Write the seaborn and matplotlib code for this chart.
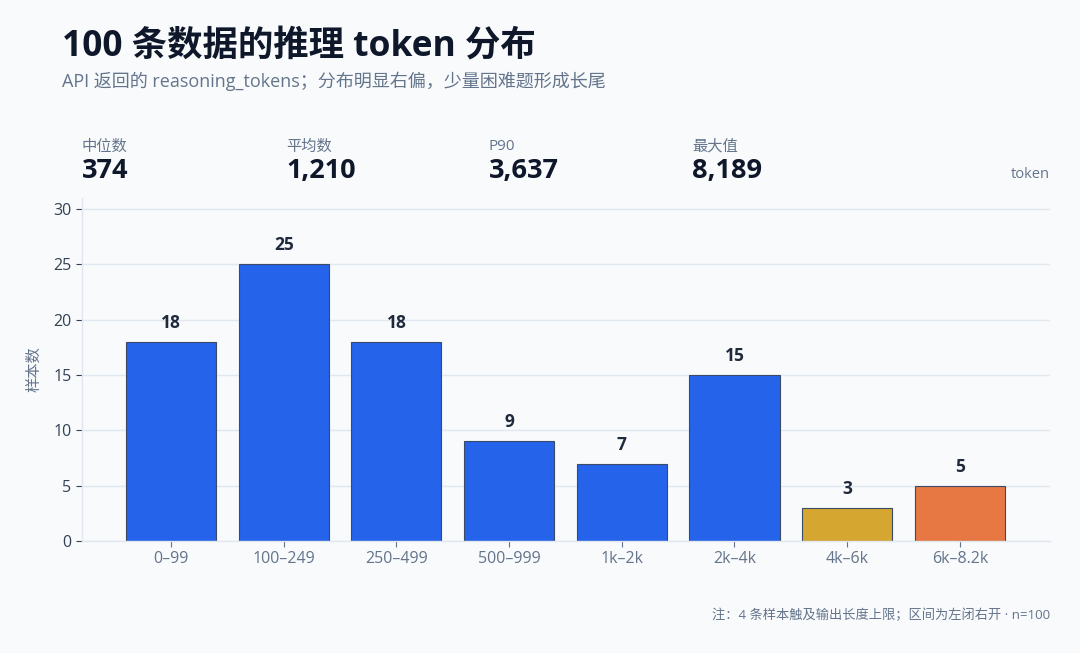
import matplotlib
matplotlib.use("Agg")
import matplotlib.pyplot as plt
import seaborn as sns
import pandas as pd

# 数据
bins = ["0–99", "100–249", "250–499", "500–999", "1k–2k", "2k–4k", "4k–6k", "6k–8.2k"]
counts = [18, 25, 18, 9, 7, 15, 3, 5]
bar_colors = ["#2563eb", "#2563eb", "#2563eb", "#2563eb", "#2563eb", "#2563eb", "#d6a730", "#e77843"]

stat_names = ["中位数", "平均数", "P90", "最大值"]
stat_values = ["374", "1,210", "3,637", "8,189"]

BG = "#f8fafc"
DARK = "#0f172a"
GRAY = "#64748b"

sns.set_theme(style="whitegrid")
plt.rcParams["font.family"] = ["Open Sans", "Noto Sans CJK SC", "DejaVu Sans"]

df = pd.DataFrame({"bin": bins, "count": counts})

fig = plt.figure(figsize=(10.8, 6.53), dpi=100, facecolor=BG)
ax = fig.add_axes([0.0759, 0.1715, 0.8963, 0.5255])
ax.set_facecolor(BG)

sns.barplot(data=df, x="bin", y="count", hue="bin", palette=bar_colors,
            legend=False, width=0.8, edgecolor="#3b4a66", linewidth=0.8,
            saturation=1, ax=ax)

# 柱顶数值
for i, v in enumerate(counts):
    ax.text(i, v + 0.9, str(v), ha="center", va="bottom", fontsize=12.5,
            fontweight="bold", color="#1e293b")

ax.set_xlim(-0.79, 7.8)
ax.set_ylim(0, 31)
ax.set_yticks([0, 5, 10, 15, 20, 25, 30])
ax.grid(axis="y", color="#e2e8f0", linewidth=1)
ax.grid(axis="x", visible=False)
ax.set_axisbelow(True)
for s in ["top", "right"]:
    ax.spines[s].set_visible(False)
for s in ["left", "bottom"]:
    ax.spines[s].set_color("#e2e8f0")
    ax.spines[s].set_linewidth(1)
ax.tick_params(axis="y", labelsize=11.5, labelcolor="#334155", colors="#334155",
               length=4, width=0.8, left=True)
ax.tick_params(axis="x", labelsize=11.5, labelcolor=GRAY, colors=GRAY,
               length=4, width=0.8, bottom=True)
ax.set_xlabel("")
ax.set_ylabel("样本数", fontsize=11, color=GRAY, labelpad=8)

# 标题
fig.text(0.057, 0.928, "100 条数据的推理 token 分布", fontsize=25.5, fontweight="bold",
         color=DARK, ha="left", va="center")
fig.text(0.057, 0.876, "API 返回的 reasoning_tokens；分布明显右偏，少量困难题形成长尾",
         fontsize=13, color=GRAY, ha="left", va="center")

# 统计指标
stat_x = [82, 286, 489, 692]
for x, name, val in zip(stat_x, stat_names, stat_values):
    fig.text(x / 1080, 1 - 147 / 653, name, fontsize=11, color=GRAY, ha="left", va="center")
    fig.text(x / 1080, 1 - 171 / 653, val, fontsize=19.5, fontweight="bold", color=DARK,
             ha="left", va="center")
fig.text(1050 / 1080, 1 - 175 / 653, "token", fontsize=10.5, color=GRAY, ha="right", va="center")

fig.text(1050 / 1080, 1 - 615 / 653, "注：4 条样本触及输出长度上限；区间为左闭右开 · n=100",
         fontsize=9.5, color=GRAY, ha="right", va="center")

fig.savefig("out.png", dpi=100, facecolor=BG)
